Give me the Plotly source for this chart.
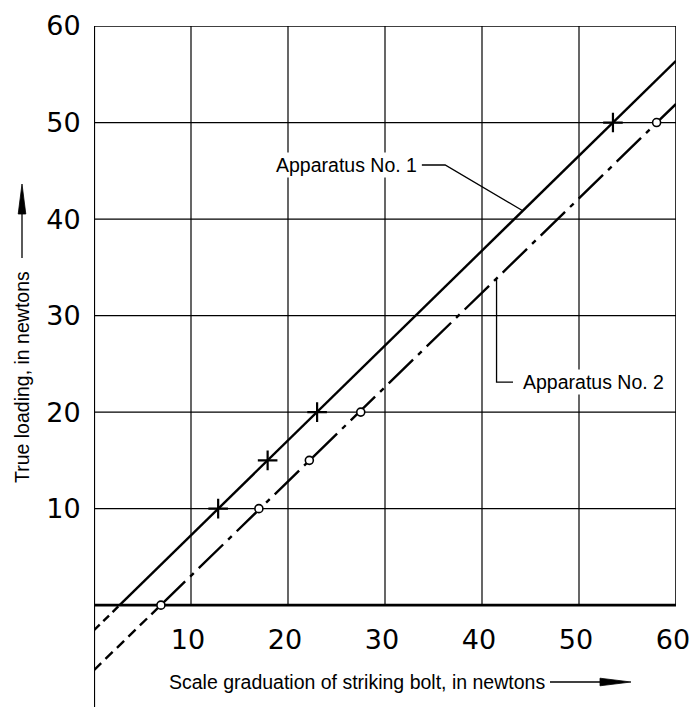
import numpy as np
import plotly.graph_objects as go

# ---- data ----
app1_x = [12.8, 17.9, 23.0, 53.5]
app1_y = [10, 15, 20, 50]
app2_x = [6.9, 17.0, 22.2, 27.5, 58.0]
app2_y = [0, 10, 15, 20, 50]

x_ticks = [10, 20, 30, 40, 50, 60]
y_ticks = [10, 20, 30, 40, 50, 60]
grid_x = [0, 10, 20, 30, 40, 50, 60]
grid_y = [0, 10, 20, 30, 40, 50, 60]

label1 = "Apparatus No. 1"
label2 = "Apparatus No. 2"
x_title = "Scale graduation of striking bolt, in newtons"
y_title = "True loading, in newtons"

X_MIN, X_MAX = 0, 60
Y_MIN, Y_MAX = -10.55, 60

W, H = 691, 707
L, R, T, B = 94, 15, 26, 0
PW, PH = W - L - R, H - T - B


def pxx(p):
    return (p - L) / PW


def pxy(p):
    return (H - B - p) / PH


def fit(xs, ys):
    k, b = np.polyfit(xs, ys, 1)
    return k, b


k1, b1 = fit(app1_x, app1_y)
k2, b2 = fit(app2_x, app2_y)
xi1 = -b1 / k1
xi2 = -b2 / k2

fig = go.Figure()

# line 1 : dashed below zero, solid above
fig.add_trace(go.Scatter(x=[X_MIN, xi1], y=[b1, 0], mode="lines",
                         line=dict(color="black", width=2.4, dash="8px,5px"),
                         hoverinfo="skip", showlegend=False))
fig.add_trace(go.Scatter(x=[xi1, X_MAX], y=[0, k1 * X_MAX + b1], mode="lines",
                         line=dict(color="black", width=2.4),
                         hoverinfo="skip", showlegend=False))
# line 2 : dashed below zero, dash-dot above
fig.add_trace(go.Scatter(x=[X_MIN, xi2], y=[b2, 0], mode="lines",
                         line=dict(color="black", width=2.4, dash="10px,6px"),
                         hoverinfo="skip", showlegend=False))
fig.add_trace(go.Scatter(x=[xi2, X_MAX], y=[0, k2 * X_MAX + b2], mode="lines",
                         line=dict(color="black", width=2.4, dash="34px,7px,5px,7px"),
                         hoverinfo="skip", showlegend=False))

# leader lines
lx1 = 44.2
fig.add_trace(go.Scatter(x=[33.8, 36.2, lx1], y=[45.6, 45.6, k1 * lx1 + b1], mode="lines",
                         line=dict(color="black", width=1.3),
                         hoverinfo="skip", showlegend=False))
lx2 = 41.5
fig.add_trace(go.Scatter(x=[43.2, lx2, lx2], y=[23.1, 23.1, k2 * lx2 + b2], mode="lines",
                         line=dict(color="black", width=1.3),
                         hoverinfo="skip", showlegend=False))

# markers
fig.add_trace(go.Scatter(x=app1_x, y=app1_y, mode="markers",
                         marker=dict(symbol="cross-thin", size=14,
                                     line=dict(color="black", width=2.2)),
                         name=label1, showlegend=False))
fig.add_trace(go.Scatter(x=app2_x, y=app2_y, mode="markers",
                         marker=dict(symbol="circle", size=8, color="white",
                                     line=dict(color="black", width=1.6)),
                         name=label2, showlegend=False, cliponaxis=False))

shapes = []
# horizontal grid lines
for gy in grid_y[1:-1]:
    shapes.append(dict(type="line", xref="x", yref="y", x0=X_MIN, x1=X_MAX, y0=gy, y1=gy,
                       line=dict(color="black", width=1.2), layer="below"))
# vertical grid lines (above y=0 only)
for gx in grid_x[1:-1]:
    shapes.append(dict(type="line", xref="x", yref="y", x0=gx, x1=gx, y0=0, y1=Y_MAX,
                       line=dict(color="black", width=1.2), layer="below"))
# frame
shapes.append(dict(type="line", xref="x", yref="y", x0=X_MIN, x1=X_MAX, y0=Y_MAX, y1=Y_MAX,
                   line=dict(color="black", width=1.6), layer="below"))
shapes.append(dict(type="line", xref="x", yref="y", x0=X_MAX, x1=X_MAX, y0=0, y1=Y_MAX,
                   line=dict(color="black", width=1.6), layer="below"))
shapes.append(dict(type="line", xref="x", yref="y", x0=X_MIN, x1=X_MAX, y0=0, y1=0,
                   line=dict(color="black", width=2.6), layer="below"))
shapes.append(dict(type="line", xref="x", yref="y", x0=X_MIN, x1=X_MIN, y0=Y_MIN, y1=Y_MAX,
                   line=dict(color="black", width=2.2), layer="below"))


def tri(points):
    p = [(pxx(a), pxy(b)) for a, b in points]
    return "M {} {} L {} {} L {} {} Z".format(p[0][0], p[0][1], p[1][0], p[1][1], p[2][0], p[2][1])


# axis-title arrows (paper coordinates)
shapes.append(dict(type="line", xref="paper", yref="paper",
                   x0=pxx(550), x1=pxx(605), y0=pxy(682), y1=pxy(682),
                   line=dict(color="black", width=1.3)))
shapes.append(dict(type="path", xref="paper", yref="paper",
                   path=tri([(631, 682), (600, 678.2), (600, 685.8)]),
                   fillcolor="black", line=dict(color="black", width=0.8)))
shapes.append(dict(type="line", xref="paper", yref="paper",
                   x0=pxx(22), x1=pxx(22), y0=pxy(258), y1=pxy(210),
                   line=dict(color="black", width=1.3)))
shapes.append(dict(type="path", xref="paper", yref="paper",
                   path=tri([(22, 184), (18.2, 214), (25.8, 214)]),
                   fillcolor="black", line=dict(color="black", width=0.8)))

text_font = dict(family="Liberation Sans, Arial, sans-serif", size=19.5, color="black")
tick_font = dict(family="DejaVu Sans, sans-serif", size=27, color="black")

annotations = [
    dict(x=26.0, y=45.6, xref="x", yref="y", text=label1, showarrow=False,
         font=text_font, bgcolor="white", xanchor="center", yanchor="middle"),
    dict(x=51.5, y=23.1, xref="x", yref="y", text=label2, showarrow=False,
         font=text_font, bgcolor="white", xanchor="center", yanchor="middle"),
    dict(x=pxx(357), y=pxy(682), xref="paper", yref="paper", text=x_title,
         showarrow=False, font=text_font, xanchor="center", yanchor="middle"),
    dict(x=pxx(22), y=pxy(377), xref="paper", yref="paper", text=y_title,
         showarrow=False, font=text_font, textangle=-90, xanchor="center", yanchor="middle"),
]

fig.update_layout(
    width=W, height=H,
    margin=dict(l=L, r=R, t=T, b=B, autoexpand=False),
    paper_bgcolor="white", plot_bgcolor="white",
    shapes=shapes, annotations=annotations,
    showlegend=False,
    xaxis=dict(range=[X_MIN, X_MAX], tickvals=x_ticks, ticktext=[str(v) for v in x_ticks],
               showgrid=False, zeroline=False, showline=False,
               anchor="free", position=(0 - Y_MIN) / (Y_MAX - Y_MIN),
               ticks="outside", ticklen=10, tickcolor="rgba(0,0,0,0)",
               ticklabeloverflow="allow", ticklabelshift=-3,
               tickfont=tick_font, fixedrange=True),
    yaxis=dict(range=[Y_MIN, Y_MAX], tickvals=y_ticks, ticktext=[str(v) for v in y_ticks],
               showgrid=False, zeroline=False, showline=False,
               ticks="outside", ticklen=7, tickcolor="rgba(0,0,0,0)",
               ticklabeloverflow="allow",
               tickfont=tick_font, fixedrange=True),
)

fig.write_html("out.html", config={"displayModeBar": False},
               post_script="document.body.style.margin='0';document.body.style.overflow='hidden';")
